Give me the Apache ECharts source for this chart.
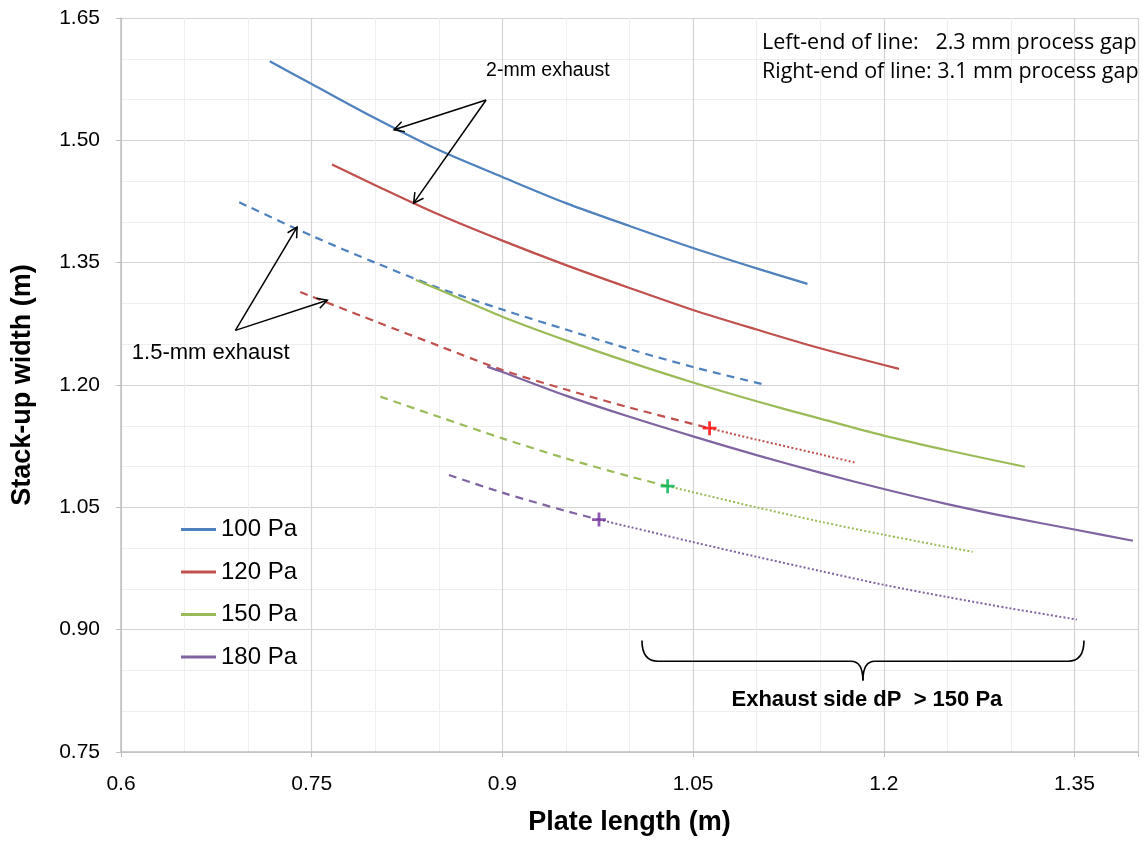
<!DOCTYPE html>
<html>
<head>
<meta charset="utf-8">
<script src="https://cdn.jsdelivr.net/npm/echarts@6/dist/echarts.min.js"></script>
<style>
html,body{margin:0;padding:0;background:#fff;}
#chart{width:1146px;height:841px;}
</style>
</head>
<body>
<div id="chart"></div>
<script>
// ---------- data ----------
const xTickLabels = ['0.6', '0.75', '0.9', '1.05', '1.2', '1.35'];
const yTickLabels = ['0.75', '0.90', '1.05', '1.20', '1.35', '1.50', '1.65'];
const legendNames = ['100 Pa', '120 Pa', '150 Pa', '180 Pa'];

// 2-mm exhaust (solid)
const x100Solid = [0.717, 0.75, 0.80, 0.85, 0.90, 0.95, 1.00, 1.05, 1.10, 1.14];
const y100Solid = [1.597, 1.569, 1.527, 1.488, 1.455, 1.423, 1.395, 1.368, 1.343, 1.324];
const x120Solid = [0.766, 0.80, 0.85, 0.90, 0.95, 1.00, 1.05, 1.10, 1.15, 1.212];
const y120Solid = [1.4705, 1.445, 1.409, 1.377, 1.347, 1.319, 1.292, 1.268, 1.245, 1.2197];
const x150Solid = [0.832, 0.85, 0.90, 0.95, 1.00, 1.05, 1.10, 1.15, 1.20, 1.25, 1.311];
const y150Solid = [1.3287, 1.317, 1.2837, 1.2547, 1.228, 1.203, 1.180, 1.1587, 1.138, 1.120, 1.0998];
const x180Solid = [0.888, 0.90, 0.95, 1.00, 1.05, 1.10, 1.15, 1.20, 1.25, 1.30, 1.35, 1.396];
const y180Solid = [1.2225, 1.216, 1.187, 1.161, 1.137, 1.114, 1.0925, 1.0725, 1.054, 1.0376, 1.0228, 1.009];

// 1.5-mm exhaust (dashed)
const x100Dash = [0.693, 0.75, 0.80, 0.85, 0.90, 0.95, 1.00, 1.05, 1.106];
const y100Dash = [1.424, 1.383, 1.350, 1.319, 1.2925, 1.268, 1.244, 1.222, 1.2005];
const x120Dash = [0.741, 0.80, 0.85, 0.90, 0.95, 1.00, 1.063];
const y120Dash = [1.314, 1.278, 1.248, 1.2184, 1.1944, 1.1724, 1.147];
const x150Dash = [0.804, 0.85, 0.90, 0.95, 1.00, 1.03];
const y150Dash = [1.1857, 1.161, 1.1346, 1.110, 1.088, 1.076];
const x180Dash = [0.858, 0.90, 0.95, 0.976];
const y180Dash = [1.0897, 1.068, 1.0455, 1.035];

// exhaust side dP > 150 Pa (dotted continuation)
const x120Dot = [1.063, 1.10, 1.15, 1.177];
const y120Dot = [1.147, 1.133, 1.115, 1.105];
const x150Dot = [1.03, 1.10, 1.15, 1.20, 1.27];
const y150Dot = [1.076, 1.050, 1.0325, 1.0164, 0.9954];
const x180Dot = [0.976, 1.00, 1.05, 1.10, 1.15, 1.20, 1.25, 1.30, 1.352];
const y180Dot = [1.035, 1.026, 1.0074, 0.9894, 0.972, 0.955, 0.940, 0.926, 0.9124];

// 150 Pa limit markers (+)
const xMarkers = [1.063, 1.030, 0.976];
const yMarkers = [1.147, 1.076, 1.035];

// ---------- build ----------
const zip = (xs, ys) => xs.map((x, i) => [x, ys[i]]);
const C = {b: '#4F81BD', r: '#C0504D', g: '#9BBB59', p: '#8064A2'};
const markerColors = ['#FF0000', '#00B050', '#7030A0'];
const FONT = "'Liberation Sans', Arial, sans-serif";

function line(name, xs, ys, color, type) {
  return {
    name: name, type: 'line', data: zip(xs, ys), showSymbol: false, symbol: 'none',
    smooth: 0.3, silent: true, animation: false, z: type === 'solid' ? 3 : 2,
    lineStyle: {color: color, width: type === 'dotted' ? 2 : 2.2, type: type === 'dashed' ? [8, 6] : (type === 'dotted' ? [2, 2.2] : 'solid')},
    itemStyle: {color: color}
  };
}

const series = [
  line('100 Pa', x100Solid, y100Solid, C.b, 'solid'),
  line('120 Pa', x120Solid, y120Solid, C.r, 'solid'),
  line('150 Pa', x150Solid, y150Solid, C.g, 'solid'),
  line('180 Pa', x180Solid, y180Solid, C.p, 'solid'),
  line('100 Pa 1.5mm', x100Dash, y100Dash, C.b, 'dashed'),
  line('120 Pa 1.5mm', x120Dash, y120Dash, C.r, 'dashed'),
  line('150 Pa 1.5mm', x150Dash, y150Dash, C.g, 'dashed'),
  line('180 Pa 1.5mm', x180Dash, y180Dash, C.p, 'dashed'),
  line('120 Pa dP', x120Dot, y120Dot, C.r, 'dotted'),
  line('150 Pa dP', x150Dot, y150Dot, C.g, 'dotted'),
  line('180 Pa dP', x180Dot, y180Dot, C.p, 'dotted'),
  {
    name: 'limit', type: 'scatter', silent: true, animation: false, z: 5,
    symbol: 'path://M4,0 H6 V4 H10 V6 H6 V10 H4 V6 H0 V4 H4 Z', symbolSize: 14,
    data: zip(xMarkers, yMarkers).map((d, i) => ({value: d, itemStyle: {color: markerColors[i]}}))
  }
];

const chart = echarts.init(document.getElementById('chart'), null, {renderer: 'canvas'});

const gridLine = '#D4D4D4', minorLine = '#EFEFEF', axisCol = '#BFBFBF';

chart.setOption({
  animation: false,
  backgroundColor: '#fff',
  grid: {left: 121, right: 8, top: 18, bottom: 89, containLabel: false},
  legend: {
    data: legendNames, orient: 'vertical', left: 176, top: 512, itemGap: 17.5,
    icon: 'rect', itemWidth: 35, itemHeight: 3, selectedMode: false,
    textStyle: {fontFamily: FONT, fontSize: 24, color: '#000', lineHeight: 25, padding: [0, 0, 0, 0]}
  },
  xAxis: {
    type: 'value', min: 0.6, max: 1.4, interval: 0.15,
    name: 'Plate length (m)', nameLocation: 'middle', nameGap: 57,
    nameTextStyle: {fontFamily: FONT, fontSize: 27, fontWeight: 'bold', color: '#000'},
    axisLine: {show: true, lineStyle: {color: axisCol, width: 1.5}},
    axisTick: {show: true, length: 5, lineStyle: {color: axisCol}},
    axisLabel: {
      fontFamily: FONT, fontSize: 21, color: '#000', margin: 22,
      formatter: v => xTickLabels.find(t => Math.abs(parseFloat(t) - v) < 1e-6) || ''
    },
    splitLine: {show: true, lineStyle: {color: gridLine, width: 1.2}},
    minorTick: {show: false, splitNumber: 3},
    minorSplitLine: {show: true, lineStyle: {color: minorLine, width: 1}}
  },
  yAxis: {
    type: 'value', min: 0.75, max: 1.65, interval: 0.15,
    name: 'Stack-up width (m)', nameLocation: 'middle', nameGap: 85, nameRotate: 90,
    nameTextStyle: {fontFamily: FONT, fontSize: 27, fontWeight: 'bold', color: '#000'},
    axisLine: {show: true, lineStyle: {color: axisCol, width: 1.5}},
    axisTick: {show: true, length: 5, lineStyle: {color: axisCol}},
    axisLabel: {
      fontFamily: FONT, fontSize: 21, color: '#000', margin: 21,
      formatter: v => yTickLabels.find(t => Math.abs(parseFloat(t) - v) < 1e-6) || ''
    },
    splitLine: {show: true, lineStyle: {color: gridLine, width: 1.2}},
    minorTick: {show: false, splitNumber: 3},
    minorSplitLine: {show: true, lineStyle: {color: minorLine, width: 1}}
  },
  series: series
});

// ---------- annotations (anchored in data space) ----------
const P = (x, y) => chart.convertToPixel({gridIndex: 0}, [x, y]);
const stroke = {stroke: '#000', lineWidth: 1.5, fill: null};

function arrow(from, to) {
  const a = P(from[0], from[1]), b = P(to[0], to[1]);
  const ang = Math.atan2(b[1] - a[1], b[0] - a[0]);
  const L = 11, w = 0.5;
  const h1 = [b[0] - L * Math.cos(ang - w), b[1] - L * Math.sin(ang - w)];
  const h2 = [b[0] - L * Math.cos(ang + w), b[1] - L * Math.sin(ang + w)];
  return [
    {type: 'polyline', shape: {points: [a, b]}, style: stroke, z: 10},
    {type: 'polyline', shape: {points: [h1, b, h2]}, style: stroke, z: 10}
  ];
}

const t2 = [0.8872, 1.5494], t15 = [0.690, 1.267];
const els = [].concat(
  arrow(t2, [0.8148, 1.513]),
  arrow(t2, [0.8302, 1.423]),
  arrow(t15, [0.7385, 1.3935]),
  arrow(t15, [0.7623, 1.304])
);

const p2 = P(0.8872, 1.585), p15 = P(0.6085, 1.2392);
els.push({type: 'text', x: p2[0], y: p2[1], z: 10,
  style: {text: '2-mm exhaust', font: '19.5px ' + FONT, fill: '#000', textAlign: 'left', textVerticalAlign: 'middle'}});
els.push({type: 'text', x: p15[0], y: p15[1], z: 10,
  style: {text: '1.5-mm exhaust', font: '22px ' + FONT, fill: '#000', textAlign: 'left', textVerticalAlign: 'middle'}});

// brace
const yT = 0.8867, yM = 0.8613, yTip = 0.8376;
const L0 = P(1.0098, yT), Lm = P(1.0098, yM), R0 = P(1.3575, yT), Rm = P(1.3575, yM), Tm = P(1.1836, yM), Tt = P(1.1836, yTip);
const q = (a, c, b) => ({type: 'bezierCurve', shape: {x1: a[0], y1: a[1], cpx1: c[0], cpy1: c[1], x2: b[0], y2: b[1]}, style: {stroke: '#000', lineWidth: 1.6, fill: null}, z: 10});
const ln = (a, b) => ({type: 'line', shape: {x1: a[0], y1: a[1], x2: b[0], y2: b[1]}, style: {stroke: '#000', lineWidth: 1.6}, z: 10});
els.push(q(L0, Lm, [Lm[0] + 16, Lm[1]]));
els.push(ln([Lm[0] + 16, Lm[1]], [Tm[0] - 12, Tm[1]]));
els.push(q([Tm[0] - 12, Tm[1]], Tm, Tt));
els.push(q(Tt, Tm, [Tm[0] + 12, Tm[1]]));
els.push(ln([Tm[0] + 12, Tm[1]], [Rm[0] - 16, Rm[1]]));
els.push(q([Rm[0] - 16, Rm[1]], Rm, R0));

const pe = P(1.1836, 0.8138);
els.push({type: 'text', x: pe[0] + 4, y: pe[1], z: 10,
  style: {text: 'Exhaust side dP  > 150 Pa', font: 'bold 22px ' + FONT, fill: '#000', textAlign: 'center', textVerticalAlign: 'middle'}});

// process-gap note (top right)
const NOTE_FONT = "21.5px 'Open Sans', Lato, sans-serif";
els.push({type: 'text', x: 762, y: 43, z: 10,
  style: {text: 'Left-end of line:   2.3 mm process gap', font: NOTE_FONT, fill: '#000', textAlign: 'left', textVerticalAlign: 'middle'}});
els.push({type: 'text', x: 762, y: 72, z: 10,
  style: {text: 'Right-end of line: 3.1 mm process gap', font: NOTE_FONT, fill: '#000', textAlign: 'left', textVerticalAlign: 'middle'}});

chart.setOption({graphic: {elements: els}});
</script>
</body>
</html>
